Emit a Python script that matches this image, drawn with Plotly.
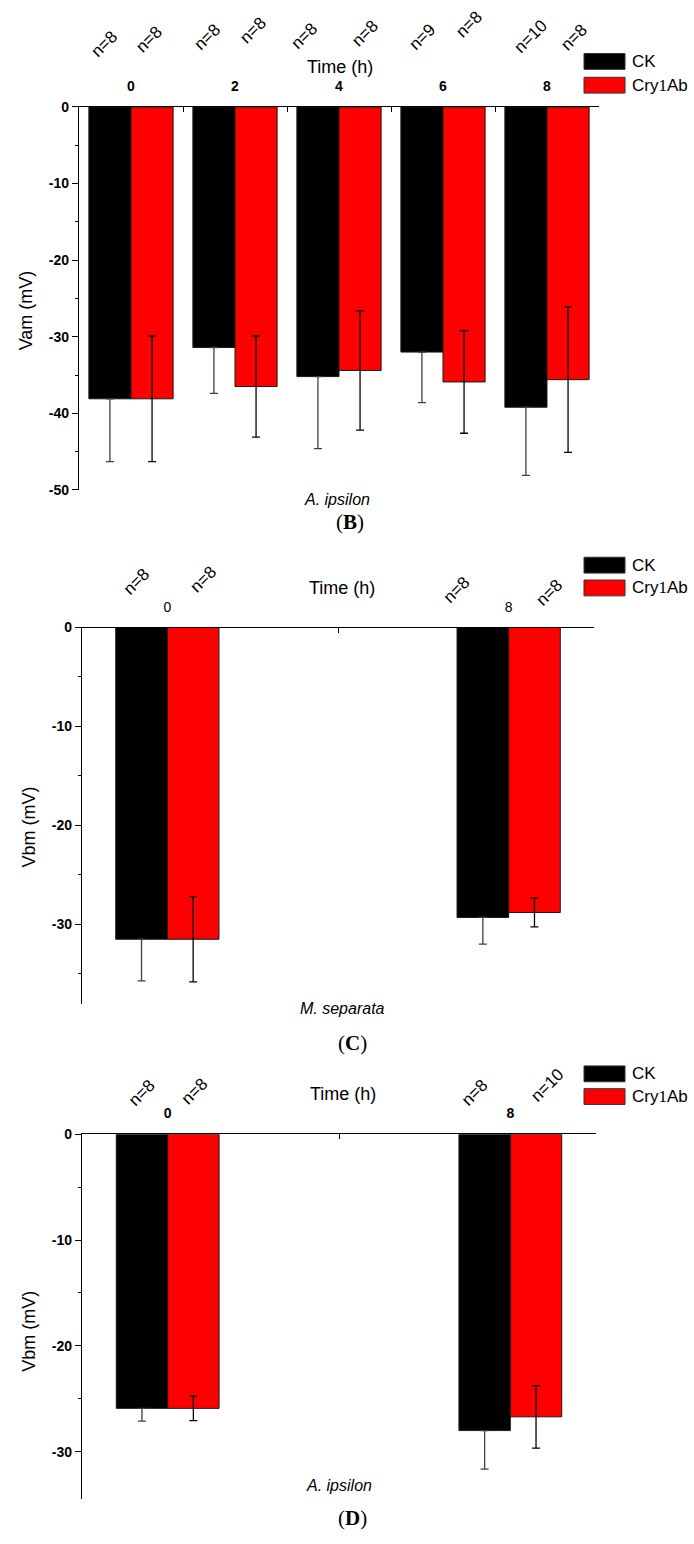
import plotly.graph_objects as go

SANS = "Liberation Sans, Arial, sans-serif"
SERIF = "Liberation Serif, Times New Roman, serif"
W, H = 694, 1544

# ---------------- data ----------------
# Panel B (A. ipsilon, Vam)
b_time = [0, 2, 4, 6, 8]
b_ck = [-38.1, -31.4, -35.2, -32.0, -39.2]
b_ck_err = [8.2, 6.0, 9.4, 6.6, 8.9]
b_cry = [-38.1, -36.5, -34.4, -35.9, -35.6]
b_cry_err = [8.2, 6.6, 7.8, 6.7, 9.5]
b_n_ck = ["n=8", "n=8", "n=8", "n=9", "n=10"]
b_n_cry = ["n=8", "n=8", "n=8", "n=8", "n=8"]
b_yticks = [0, -10, -20, -30, -40, -50]

# Panel C (M. separata, Vbm)
c_time = [0, 8]
c_ck = [-31.5, -29.3]
c_ck_err = [4.2, 2.7]
c_cry = [-31.5, -28.8]
c_cry_err = [4.3, 1.45]
c_n_ck = ["n=8", "n=8"]
c_n_cry = ["n=8", "n=8"]
c_yticks = [0, -10, -20, -30]

# Panel D (A. ipsilon, Vbm)
d_time = [0, 8]
d_ck = [-25.9, -28.0]
d_ck_err = [1.2, 3.65]
d_cry = [-25.9, -26.7]
d_cry_err = [1.15, 2.95]
d_n_ck = ["n=8", "n=8"]
d_n_cry = ["n=8", "n=10"]
d_yticks = [0, -10, -20, -30]

series_names = ["CK", "Cry1Ab"]
series_colors = ["#000000", "#ff0000"]


def px(x):
    return x / W


def py(y):
    return 1 - y / H


panels = [
    dict(time=b_time, ck=b_ck, ck_err=b_ck_err, cry=b_cry, cry_err=b_cry_err,
         n_ck=b_n_ck, n_cry=b_n_cry, yticks=b_yticks, width=0.81, xrange=[-1, 9],
         minor_x=[1, 3, 5, 7],
         yrange=[-50, 0], xdom=[79, 599], ydom=[100, 487], tickbold=True,
         ytitle="Vam (mV)", ytitle_pos=(25.5, 306), time_pos=(340, 60),
         species="A. ipsilon", species_pos=(337, 497), letter="B", letter_pos=(350, 519),
         legend_y=(46, 70),
         n_shift_ck=[(-5, 63), (-6, 70), (-13, 71), (1, 70), (5, 70)],
         n_shift_cry=[(-3, 67), (-3, 76), (5, 73), (5, 82), (6, 69)]),
    dict(time=c_time, ck=c_ck, ck_err=c_ck_err, cry=c_cry, cry_err=c_cry_err,
         n_ck=c_n_ck, n_cry=c_n_cry, yticks=c_yticks, width=1.21, xrange=[-2, 10],
         minor_x=[4],
         yrange=[-38, 0], xdom=[82, 594], ydom=[626, 1006], tickbold=False,
         ytitle="Vbm (mV)", ytitle_pos=(29, 828), time_pos=(342, 586),
         species="M. separata", species_pos=(342, 1011), letter="C", letter_pos=(352, 1046),
         legend_y=(555, 578),
         n_shift_ck=[(-5, 46), (-26, 38)],
         n_shift_cry=[(10, 48), (15, 35)]),
    dict(time=d_time, ck=d_ck, ck_err=d_ck_err, cry=d_cry, cry_err=d_cry_err,
         n_ck=d_n_ck, n_cry=d_n_cry, yticks=d_yticks, width=1.2, xrange=[-2, 10],
         minor_x=[4],
         yrange=[-34.5, 0], xdom=[82, 596], ydom=[1138, 1507], tickbold=True,
         ytitle="Vbm (mV)", ytitle_pos=(29.5, 1337), time_pos=(343, 1097),
         species="A. ipsilon", species_pos=(339, 1493), letter="D", letter_pos=(352, 1526),
         legend_y=(1069, 1092),
         n_shift_ck=[(0, 42), (-10, 42)],
         n_shift_cry=[(1, 43), (11, 49)]),
]

fig = go.Figure()
annotations = []
shapes = []
layout_axes = {}

for i, p in enumerate(panels):
    k = "" if i == 0 else str(i + 1)
    xref, yref = "x" + k, "y" + k
    w = p["width"]
    # CK: only the part below the bar is visible (upper part hidden by black bar)
    fig.add_trace(go.Bar(
        x=p["time"], y=p["ck"], width=w, offset=-w, name=series_names[0],
        marker=dict(color=series_colors[0], line=dict(color="#1a1a1a", width=1)),
        error_y=dict(type="data", symmetric=False, array=[0] * len(p["ck_err"]),
                     arrayminus=p["ck_err"], visible=True, color="#404040",
                     thickness=1.3, width=4),
        xaxis=xref, yaxis=yref, showlegend=False,
    ))
    fig.add_trace(go.Bar(
        x=p["time"], y=p["cry"], width=w, offset=0.0, name=series_names[1],
        marker=dict(color=series_colors[1], line=dict(color="#1a1a1a", width=1)),
        error_y=dict(type="data", array=p["cry_err"], visible=True, color="#000000",
                     thickness=1.3, width=4),
        xaxis=xref, yaxis=yref, showlegend=False,
    ))

    x0, x1 = p["xdom"]
    y0, y1 = p["ydom"]
    layout_axes["xaxis" + k] = dict(
        domain=[px(x0), px(x1)], anchor=yref, side="top", range=p["xrange"],
        showline=True, linecolor="black", linewidth=1.4, showgrid=False, zeroline=False,
        tickmode="array", tickvals=p["time"], ticktext=[str(t) for t in p["time"]],
        ticks="outside", ticklen=9, tickcolor="rgba(0,0,0,0)",
        tickfont=dict(family=SANS, size=14, color="black",
                      weight="bold" if p["tickbold"] else "normal"),
        minor=dict(tickmode="array", tickvals=p["minor_x"], ticks="inside",
                   ticklen=5, tickwidth=1.2, tickcolor="black", showgrid=False),
        fixedrange=True,
    )
    layout_axes["yaxis" + k] = dict(
        domain=[py(y1), py(y0)], anchor=xref, range=p["yrange"],
        showline=True, linecolor="black", linewidth=1.4, showgrid=False, zeroline=False,
        tickmode="array", tickvals=p["yticks"], ticktext=[str(v) for v in p["yticks"]],
        ticks="outside", ticklen=6, tickwidth=1.3, tickcolor="black",
        tickfont=dict(family=SANS, size=14, color="black", weight="bold"),
        minor=dict(tickmode="linear", tick0=0, dtick=5, ticks="outside", ticklen=3,
                   tickwidth=1.2, tickcolor="black", showgrid=False),
        fixedrange=True,
    )

    # n= labels (rotated)
    for t, lab, (dx, dy) in zip(p["time"], p["n_ck"], p["n_shift_ck"]):
        annotations.append(dict(x=t - w / 2, y=0, xref=xref, yref=yref, text=lab,
                                showarrow=False, textangle=-45, xanchor="center",
                                yanchor="middle", xshift=dx, yshift=dy,
                                font=dict(family=SANS, size=17, color="black")))
    for t, lab, (dx, dy) in zip(p["time"], p["n_cry"], p["n_shift_cry"]):
        annotations.append(dict(x=t + w / 2, y=0, xref=xref, yref=yref, text=lab,
                                showarrow=False, textangle=-45, xanchor="center",
                                yanchor="middle", xshift=dx, yshift=dy,
                                font=dict(family=SANS, size=17, color="black")))

    # Time (h)
    tx, ty = p["time_pos"]
    annotations.append(dict(x=px(tx), y=py(ty), xref="paper", yref="paper", text="Time (h)",
                            showarrow=False, xanchor="center", yanchor="middle",
                            font=dict(family=SANS, size=18, color="black")))
    # y title
    ax_, ay_ = p["ytitle_pos"]
    annotations.append(dict(x=px(ax_), y=py(ay_), xref="paper", yref="paper",
                            text=p["ytitle"], textangle=-90, showarrow=False,
                            xanchor="center", yanchor="middle",
                            font=dict(family=SANS, size=18, color="black")))
    # species
    sx, sy = p["species_pos"]
    annotations.append(dict(x=px(sx), y=py(sy), xref="paper", yref="paper",
                            text="<i>" + p["species"] + "</i>", showarrow=False,
                            xanchor="center", yanchor="middle",
                            font=dict(family=SANS, size=16, color="black")))
    # panel letter
    lx, ly = p["letter_pos"]
    annotations.append(dict(x=px(lx), y=py(ly), xref="paper", yref="paper",
                            text="(<b>" + p["letter"] + "</b>)", showarrow=False,
                            xanchor="center", yanchor="middle",
                            font=dict(family=SERIF, size=21, color="black")))

    # legend (drawn manually to match swatch size)
    for (ytop, name, col) in zip(p["legend_y"], series_names, series_colors):
        shapes.append(dict(type="rect", xref="paper", yref="paper",
                           x0=px(584), x1=px(625), y0=py(ytop + 16), y1=py(ytop),
                           fillcolor=col, line=dict(color="#333333", width=1)))
        label = "Cry<span style='font-family:Liberation Serif'>1</span>Ab" if name == "Cry1Ab" else name
        annotations.append(dict(x=px(630), y=py(ytop + 8), xref="paper", yref="paper",
                                text=label, showarrow=False, xanchor="left",
                                yanchor="middle",
                                font=dict(family=SANS, size=17, color="black")))

fig.update_layout(
    width=W, height=H, margin=dict(l=0, r=0, t=0, b=0),
    paper_bgcolor="white", plot_bgcolor="white",
    showlegend=False, annotations=annotations, shapes=shapes,
    **layout_axes,
)

fig.write_html("out.html")
